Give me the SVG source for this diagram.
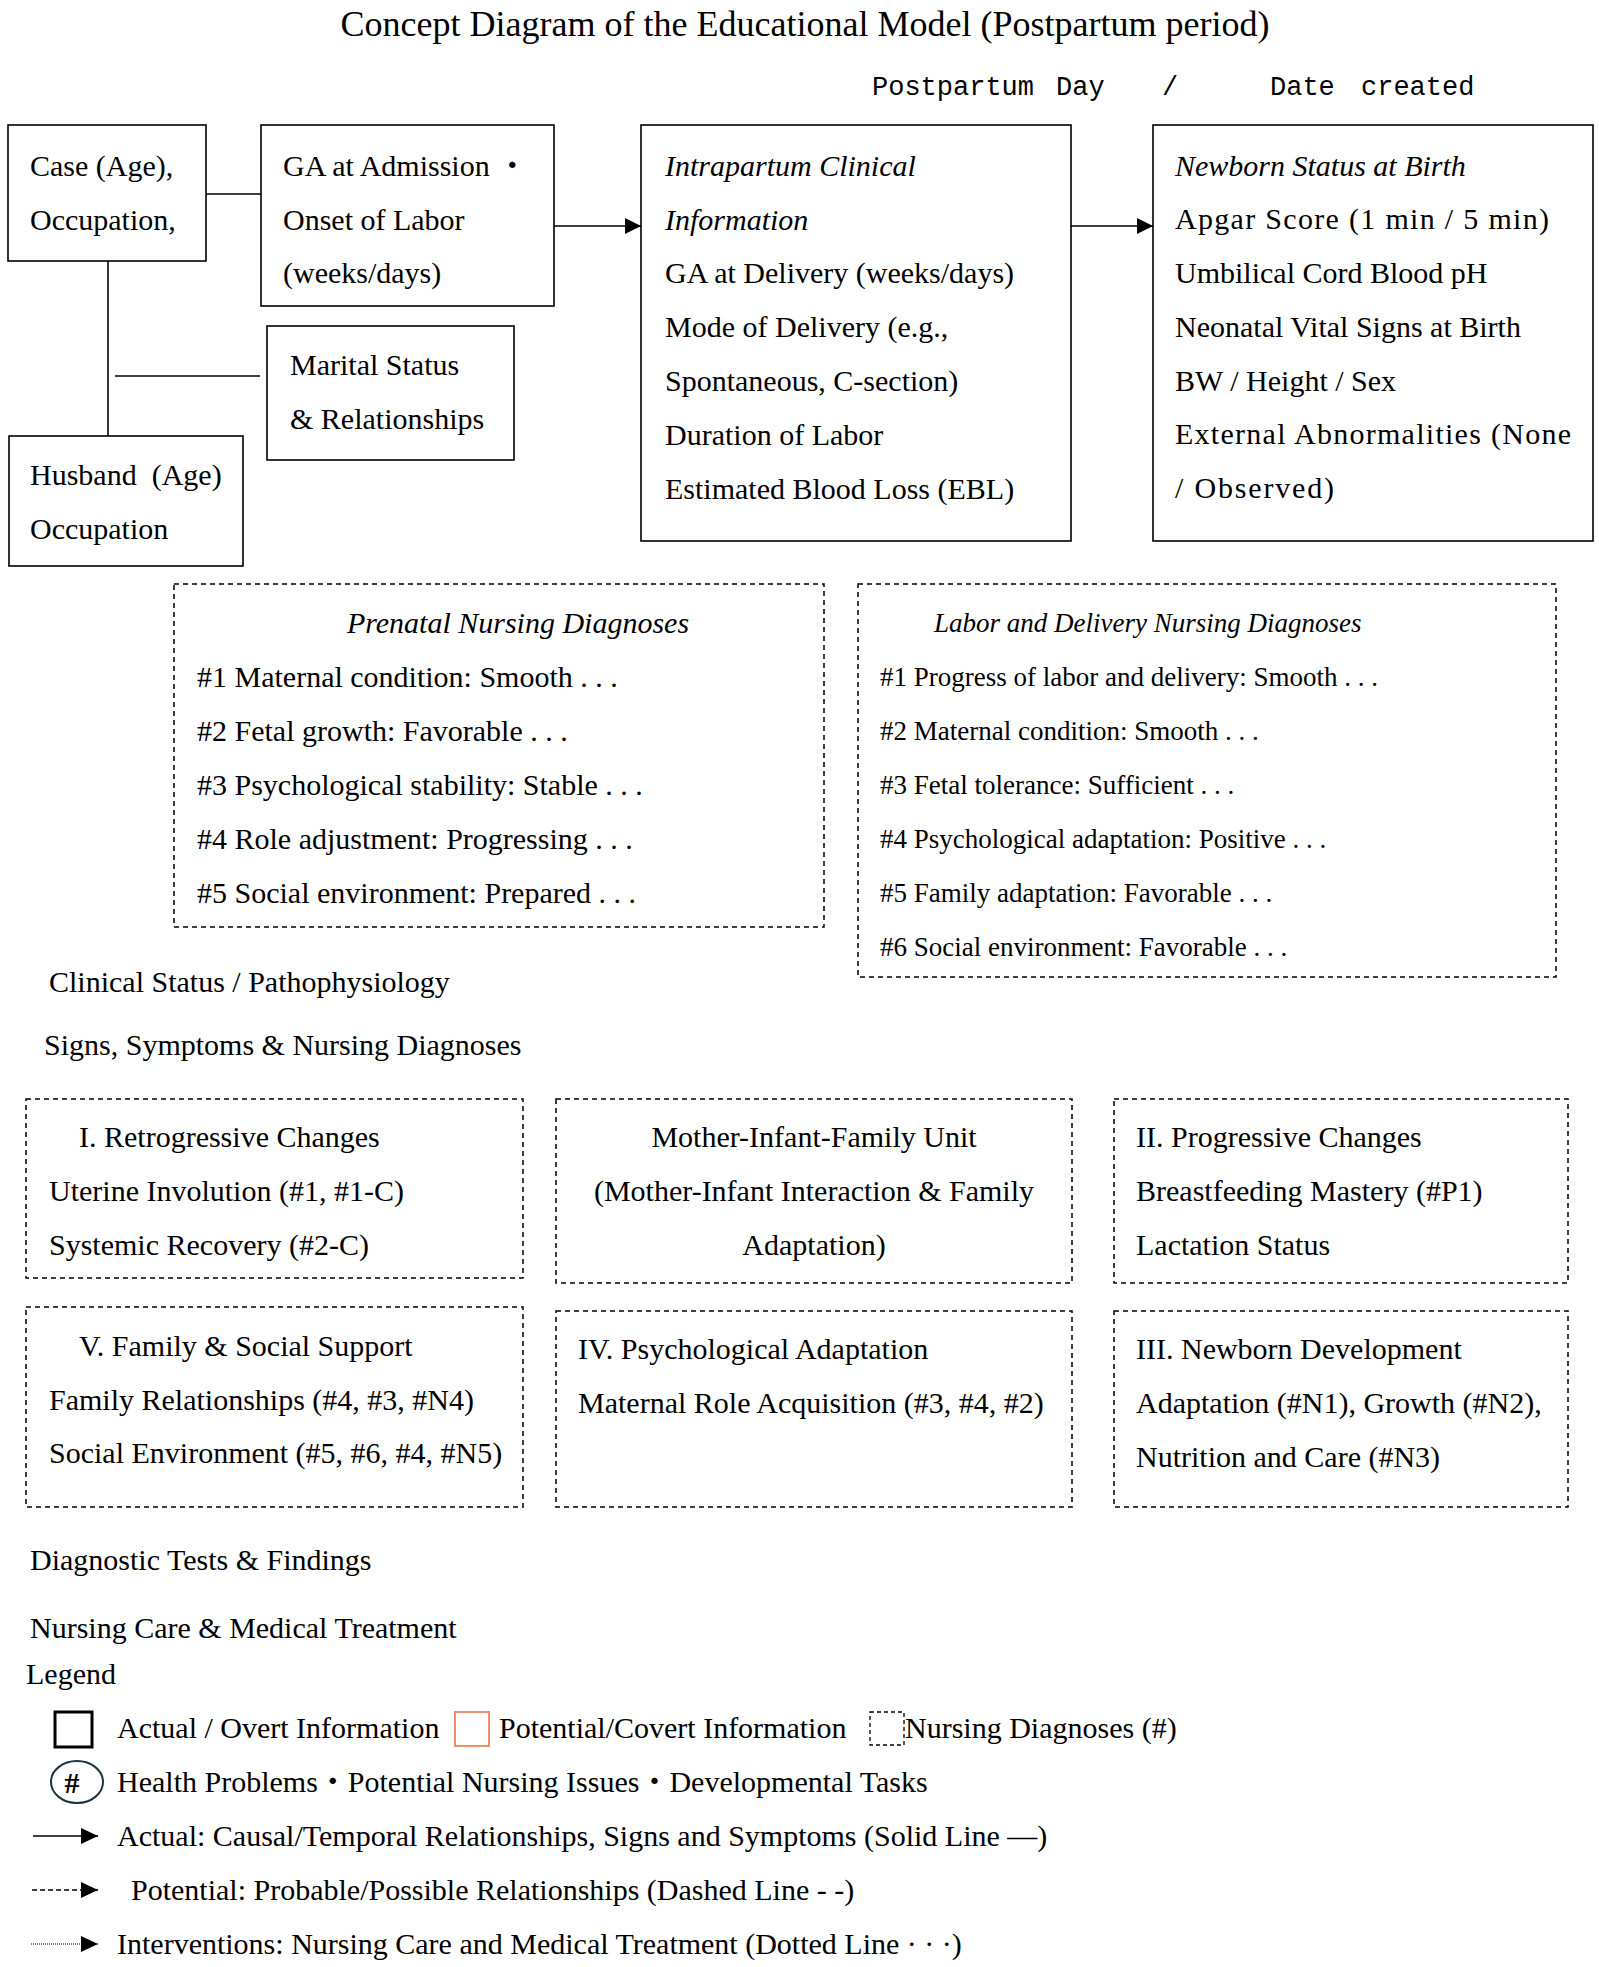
<svg xmlns="http://www.w3.org/2000/svg" width="1599" height="1967" viewBox="0 0 1599 1967">
<style>
text{font-family:"Liberation Serif","Noto Sans CJK JP",serif;font-size:30px;fill:#000}
.it{font-style:italic}
.sm{font-size:27px}
.mono{font-family:"Liberation Mono","Noto Sans CJK JP",monospace;font-size:27px}
.title{font-size:36px}
.pre{white-space:pre}
.box{fill:#fff;stroke:#000;stroke-width:1.6}
.dbox{fill:none;stroke:#000;stroke-width:1.5;stroke-dasharray:5 4}
.ln{stroke:#000;stroke-width:1.6;fill:none}
</style>
<defs>
<marker id="ah" viewBox="0 0 12 12" refX="12" refY="6" markerWidth="16" markerHeight="16" markerUnits="userSpaceOnUse" orient="auto">
<path d="M0,0 L12,6 L0,12 Z" fill="#000"/>
</marker>
<marker id="ahs" viewBox="0 0 12 12" refX="12" refY="6" markerWidth="17" markerHeight="16" markerUnits="userSpaceOnUse" orient="auto" preserveAspectRatio="none">
<path d="M0,0 L12,6 L0,12 Z" fill="#000"/>
</marker>
</defs>
<rect width="1599" height="1967" fill="#fff"/>

<text class="title" x="805" y="36" text-anchor="middle">Concept Diagram of the Educational Model (Postpartum period)</text>
<g id="header-date">
<text class="mono" x="872" y="95">Postpartum</text>
<text class="mono" x="1056" y="95">Day</text>
<text class="mono" x="1162" y="95">/</text>
<text class="mono" x="1270" y="95">Date</text>
<text class="mono" x="1361" y="95">created</text>
</g>

<g id="connectors">
<line class="ln" x1="206" y1="194" x2="261" y2="194"/>
<line class="ln" x1="108" y1="261" x2="108" y2="436"/>
<line class="ln" x1="115" y1="376" x2="260" y2="376"/>
<line class="ln" x1="554" y1="226" x2="641" y2="226" marker-end="url(#ah)"/>
<line class="ln" x1="1071" y1="226" x2="1153" y2="226" marker-end="url(#ah)"/>
</g>

<g id="case">
<rect class="box" x="8" y="125" width="198" height="136"/>
<text x="30" y="176">Case (Age),</text>
<text x="30" y="230">Occupation,</text>
</g>

<g id="ga-admission">
<rect class="box" x="261" y="125" width="293" height="181"/>
<text x="283" y="176">GA at Admission ・</text>
<text x="283" y="230">Onset of Labor</text>
<text x="283" y="283">(weeks/days)</text>
</g>

<g id="marital">
<rect class="box" x="267" y="326" width="247" height="134"/>
<text x="290" y="375">Marital Status</text>
<text x="290" y="429">&amp; Relationships</text>
</g>

<g id="husband">
<rect class="box" x="9" y="436" width="234" height="130"/>
<text class="pre" x="30" y="485">Husband  (Age)</text>
<text x="30" y="539">Occupation</text>
</g>

<g id="intrapartum">
<rect class="box" x="641" y="125" width="430" height="416"/>
<text class="it" x="665" y="176">Intrapartum Clinical</text>
<text class="it" x="665" y="230">Information</text>
<text x="665" y="283">GA at Delivery (weeks/days)</text>
<text x="665" y="337">Mode of Delivery (e.g.,</text>
<text x="665" y="391">Spontaneous, C-section)</text>
<text x="665" y="445">Duration of Labor</text>
<text x="665" y="499">Estimated Blood Loss (EBL)</text>
</g>

<g id="newborn">
<rect class="box" x="1153" y="125" width="440" height="416"/>
<text class="it" x="1175" y="176">Newborn Status at Birth</text>
<text x="1175" y="229" textLength="374" lengthAdjust="spacing">Apgar Score (1 min / 5 min)</text>
<text x="1175" y="283">Umbilical Cord Blood pH</text>
<text x="1175" y="337">Neonatal Vital Signs at Birth</text>
<text x="1175" y="391">BW / Height / Sex</text>
<text x="1175" y="444" textLength="396" lengthAdjust="spacing">External Abnormalities (None</text>
<text x="1175" y="498" textLength="159" lengthAdjust="spacing">/ Observed)</text>
</g>

<g id="prenatal-dx">
<rect class="dbox" x="174" y="584" width="650" height="343"/>
<text class="it" x="518" y="633" text-anchor="middle">Prenatal Nursing Diagnoses</text>
<text x="197" y="687">#1 Maternal condition: Smooth . . .</text>
<text x="197" y="741">#2 Fetal growth: Favorable . . .</text>
<text x="197" y="795">#3 Psychological stability: Stable . . .</text>
<text x="197" y="849">#4 Role adjustment: Progressing . . .</text>
<text x="197" y="903">#5 Social environment: Prepared . . .</text>
</g>

<g id="labor-dx">
<rect class="dbox" x="858" y="584" width="698" height="393"/>
<text class="it sm" x="934" y="632">Labor and Delivery Nursing Diagnoses</text>
<text class="sm" x="880" y="686">#1 Progress of labor and delivery: Smooth . . .</text>
<text class="sm" x="880" y="740">#2 Maternal condition: Smooth . . .</text>
<text class="sm" x="880" y="794">#3 Fetal tolerance: Sufficient . . .</text>
<text class="sm" x="880" y="848">#4 Psychological adaptation: Positive . . .</text>
<text class="sm" x="880" y="902">#5 Family adaptation: Favorable . . .</text>
<text class="sm" x="880" y="956">#6 Social environment: Favorable . . .</text>
</g>

<text x="49" y="992">Clinical Status / Pathophysiology</text>
<text x="44" y="1055">Signs, Symptoms &amp; Nursing Diagnoses</text>

<g id="retrogressive">
<rect class="dbox" x="26" y="1099" width="497" height="179"/>
<text x="79" y="1147">I. Retrogressive Changes</text>
<text x="49" y="1201">Uterine Involution (#1, #1-C)</text>
<text x="49" y="1255">Systemic Recovery (#2-C)</text>
</g>

<g id="mother-infant">
<rect class="dbox" x="556" y="1099" width="516" height="184"/>
<text x="814" y="1147" text-anchor="middle">Mother-Infant-Family Unit</text>
<text x="814" y="1201" text-anchor="middle">(Mother-Infant Interaction &amp; Family</text>
<text x="814" y="1255" text-anchor="middle">Adaptation)</text>
</g>

<g id="progressive">
<rect class="dbox" x="1114" y="1099" width="454" height="184"/>
<text x="1136" y="1147">II. Progressive Changes</text>
<text x="1136" y="1201">Breastfeeding Mastery (#P1)</text>
<text x="1136" y="1255">Lactation Status</text>
</g>

<g id="family-social">
<rect class="dbox" x="26" y="1307" width="497" height="200"/>
<text x="79" y="1356">V. Family &amp; Social Support</text>
<text x="49" y="1410">Family Relationships (#4, #3, #N4)</text>
<text x="49" y="1463">Social Environment (#5, #6, #4, #N5)</text>
</g>

<g id="psychological">
<rect class="dbox" x="556" y="1311" width="516" height="196"/>
<text x="578" y="1359">IV. Psychological Adaptation</text>
<text x="578" y="1413">Maternal Role Acquisition (#3, #4, #2)</text>
</g>

<g id="newborn-dev">
<rect class="dbox" x="1114" y="1311" width="454" height="196"/>
<text x="1136" y="1359">III. Newborn Development</text>
<text x="1136" y="1413">Adaptation (#N1), Growth (#N2),</text>
<text x="1136" y="1467">Nutrition and Care (#N3)</text>
</g>

<text x="30" y="1570">Diagnostic Tests &amp; Findings</text>
<text x="30" y="1638">Nursing Care &amp; Medical Treatment</text>
<text x="26" y="1684">Legend</text>

<g id="legend">
<rect x="55" y="1712" width="37" height="35" fill="none" stroke="#000" stroke-width="3"/>
<text x="117" y="1738">Actual / Overt Information</text>
<rect x="455" y="1712" width="34" height="34" fill="none" stroke="#e8845a" stroke-width="1.8"/>
<text x="499" y="1738">Potential/Covert Information</text>
<rect x="870" y="1712" width="34" height="33" fill="none" stroke="#000" stroke-width="1.3" stroke-dasharray="4 3"/>
<text x="905" y="1738">Nursing Diagnoses (#)</text>
<ellipse cx="77" cy="1782" rx="26" ry="21" fill="none" stroke="#1c3340" stroke-width="2"/>
<text x="72" y="1793" text-anchor="middle" font-family="Liberation Sans, sans-serif" font-weight="bold" font-size="28">#</text>
<text x="117" y="1792">Health Problems・Potential Nursing Issues・Developmental Tasks</text>
<line class="ln" x1="33" y1="1836" x2="98" y2="1836" marker-end="url(#ahs)"/>
<text x="117" y="1846">Actual: Causal/Temporal Relationships, Signs and Symptoms (Solid Line —)</text>
<line x1="32" y1="1890" x2="98" y2="1890" stroke="#000" stroke-width="1.5" stroke-dasharray="5 3" marker-end="url(#ahs)"/>
<text x="131" y="1900">Potential: Probable/Possible Relationships (Dashed Line - -)</text>
<line x1="31" y1="1944" x2="98" y2="1944" stroke="#000" stroke-width="1.2" stroke-dasharray="1 1" marker-end="url(#ahs)"/>
<text x="117" y="1954">Interventions: Nursing Care and Medical Treatment (Dotted Line · · ·)</text>
</g>
</svg>
